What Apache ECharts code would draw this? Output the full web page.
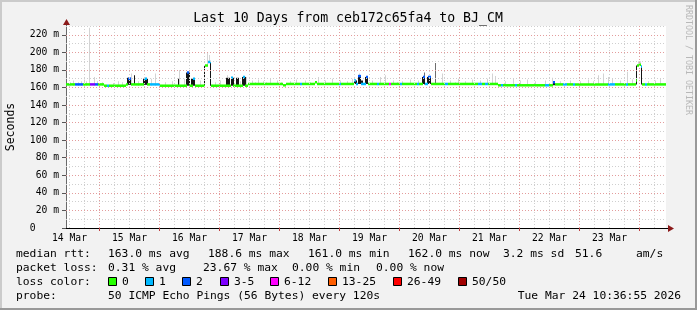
<!DOCTYPE html>
<html><head><meta charset="utf-8">
<script src="https://cdn.jsdelivr.net/npm/echarts@6/dist/echarts.min.js"></script>
<style>html,body{margin:0;padding:0;background:#f2f2f2}#c{width:697px;height:310px}</style>
</head><body><div id="c"></div>
<script>
// ---------- data (hours since 14 Mar 00:00, values in ms) ----------
const titleText = 'Last 10 Days from ceb172c65fa4 to BJ_CM';
const timeRange = [10.615, 250.615];
const xLabels = ['14 Mar','15 Mar','16 Mar','17 Mar','18 Mar','19 Mar','20 Mar','21 Mar','22 Mar','23 Mar'];
const xLabelHours = [12, 36, 60, 84, 108, 132, 156, 180, 204, 228];
const dayHours = [24, 48, 72, 96, 120, 144, 168, 192, 216, 240];
const yLabelValues = [0, 20, 40, 60, 80, 100, 120, 140, 160, 180, 200, 220];
const yMax = 230;
const lossColors = ['#26ff00','#00b8ff','#0059ff','#7e00ff','#ff00ff','#ff5e00','#ff0000','#a10000'];
const lossLabels = ['0','1','2','3-5','6-12','13-25','26-49','50/50'];

// median rtt runs: [startHour, endHour, ms, lossClass]
const median = [
 [10.6,14.2,163.5,0],[14.2,17.4,163.5,2],[17.4,20.2,163.5,0],[20.2,22.2,163.5,3],[22.2,23.4,163.5,2],
 [23.4,25.8,163.5,0],[25.8,27.0,162,0],[27.0,27.8,162,1],[27.8,34.6,162,0],[34.6,35.4,163.5,0],
 [35.4,36.6,170,2],[36.6,41.8,163.5,0],[41.8,43.0,170,1],[43.0,44.2,163.5,0],[44.2,48.2,163.5,1],
 [48.2,59.0,162,0],[59.0,59.8,177,2],[59.8,61.4,162,0],[61.4,62.2,170,1],[62.2,66.2,162,0],
 [66.2,67.4,185,0],[67.4,68.6,189,1],[68.6,76.6,162,0],[76.6,77.4,171,1],[77.4,81.4,162,0],
 [81.4,82.2,172,1],[82.2,83.4,162,0],[83.4,97.4,164,0],[97.4,98.6,162.5,0],[98.6,104.2,164,0],
 [104.2,105.0,164,1],[105.0,110.2,164,0],[110.2,111.0,166,0],[111.0,119.8,164,0],[119.8,120.6,164,1],
 [120.6,125.8,164,0],[125.8,126.6,168,1],[126.6,127.4,164,1],[127.4,128.6,173,2],[128.6,130.6,164,1],
 [130.6,131.4,172,2],[131.4,135.0,164,0],[135.0,135.8,164,1],[135.8,139.8,164,0],[139.8,140.6,164,4],
 [140.6,144.2,164,0],[144.2,145.0,164,1],[145.0,151.0,164,0],[151.0,151.8,164,1],[151.8,153.4,164,0],
 [153.4,154.2,172,2],[154.2,155.4,164,1],[155.4,156.6,172,2],[156.6,162.2,164,0],[162.2,163.4,164,1],
 [163.4,175.4,164,0],[175.4,177.0,164,1],[177.0,178.2,164,0],[178.2,179.4,164,1],[179.4,183.4,164,0],
 [183.4,184.6,162.5,0],[184.6,185.4,162.5,1],[185.4,190.2,162.5,0],[190.2,191.0,162.5,1],[191.0,202.2,162.5,0],
 [202.2,203.8,162.5,1],[203.8,205.4,162.5,0],[205.4,206.2,166,2],[206.2,209.4,163.5,0],[209.4,211.0,163.5,1],
 [211.0,213.4,163.5,0],[213.4,214.2,163.5,1],[214.2,227.4,163.5,0],[227.4,230.2,163.5,1],[230.2,234.6,163.5,0],
 [234.6,235.4,163.5,1],[235.4,238.6,163.5,0],[238.6,239.0,168,0],[239.0,239.8,185,0],[239.8,240.6,186,0],
 [240.6,241.0,184,1],[241.0,242.2,163.5,0],[242.2,243.0,163.5,1],[243.0,250.6,163.5,0]
];

// dense (dark) smoke blocks: [startHour, endHour, lowMs, highMs]
const denseSmoke = [
 [35.0,36.6,163,171],[37.8,38.2,163,174],[41.4,43.4,163,170],[55.4,55.8,162,170],[58.6,60.2,162,177],
 [60.6,62.2,162,170],[66.0,66.4,162,185],[68.4,68.8,162,189],[74.6,76.2,162,171],[76.6,77.8,162,171],
 [78.6,79.8,162,171],[81.0,82.6,162,172],[125.8,127.0,164,168],[127.4,128.6,164,173],[128.6,129.4,164,168],
 [130.2,131.4,164,172],[153.0,154.2,164,172],[155.0,156.6,164,172],[205.4,206.2,162.5,166],
 [238.6,239.0,163.5,168],[238.8,239.2,168,185],[240.8,241.2,163.5,183]
];

// smoke spikes: [hour, lowMs, highMs, shade(0 light,1 dark)]
const smoke = [
 [11.4,162,165,0],[12.2,162,166,0],[13.4,162,168,0],[15.4,162,166,0],[16.6,162,167,0],[17.8,162,169,0],[18.6,162,167,0],[19.8,162,228,0],
 [21.8,162,172,0],[23.0,162,167,0],[25.0,162,166,0],[29.4,161,165,0],[31.4,161,167,0],[33.0,161,166,0],
 [36.6,162,176,0],[39.4,162,167,0],[44.6,162,170,0],[46.2,162,176,0],[50.2,161,166,0],[53.0,161,167,0],
 [55.8,161,180,0],[57.8,161,170,0],[64.2,161,168,0],[67.0,186,200,0],[67.8,190,197,0],[70.2,161,166,0],
 [72.2,161,168,0],[75.0,171,174,0],[80.2,161,167,0],[82.6,161,172,0],[85.0,163,168,0],[86.2,163,166,0],[87.4,163,169,0],
 [89.4,163,167,0],[90.6,163,166,0],[92.2,163,170,0],[95.0,163,168,0],[96.6,163,166,0],[100.2,163,167,0],[102.6,163,169,0],[106.2,163,168,0],
 [108.2,163,166,0],[111.4,163,172,0],[114.2,163,168,0],[117.0,163,170,0],[120.2,163,168,0],[123.0,163,167,0],[125.0,163,170,0],
 [127.8,173,176,0],[133.0,163,168,0],[136.2,163,172,0],[138.2,163,174,0],[141.4,163,168,0],[143.0,163,166,0],[145.0,163,167,0],
 [148.2,163,169,0],[151.4,163,168,0],[153.8,163,177,1],[158.2,163,188,1],[161.0,163,176,0],[164.2,163,168,0],[166.2,163,166,0],
 [167.4,163,170,0],[170.2,163,167,0],[173.0,163,169,0],[176.2,163,168,0],[179.0,163,170,0],[181.0,163,176,0],
 [182.2,163,173,0],[186.2,162,167,0],[189.4,162,170,0],[192.2,162,168,0],[195.0,162,169,0],[198.2,162,167,0],
 [202.2,162,168,0],[205.0,162,171,0],[208.2,163,167,0],[212.2,163,168,0],[216.2,163,167,0],[219.4,163,169,0],
 [221.4,163,167,0],[223.4,163,174,0],[225.4,163,176,0],[227.4,163,172,0],[229.0,163,170,0],[232.2,163,168,0],[235.0,163,178,0],
 [237.0,163,169,0],[239.4,186,190,0],[240.2,186,190,0],[243.4,163,167,0],[246.2,163,168,0],[248.2,163,170,0]
];

const rttLabel = 'median rtt:';
const rttStats = ['163.0 ms avg','188.6 ms max','161.0 ms min','162.0 ms now','3.2 ms sd','51.6','am/s'];
const lossLabel = 'packet loss:';
const lossStats = ['0.31 % avg','23.67 % max','0.00 % min','0.00 % now'];
const colorLabel = 'loss color:';
const probeLabel = 'probe:';
const probeText = '50 ICMP Echo Pings (56 Bytes) every 120s';
const stampText = 'Tue Mar 24 10:36:55 2026';
const yName = 'Seconds';
const watermark = 'RRDTOOL / TOBI OETIKER';

// ---------- chart ----------
const FONT = 'DejaVu Sans Mono';
const chart = echarts.init(document.getElementById('c'), null, {renderer: 'canvas'});

const minorStyle = {color: '#cfcfcf', type: [1, 2], width: 1};
const majorStyle = {color: '#e39c9c', type: [1, 2], width: 1};
const gridLines = [];
for (let v = 10; v <= yMax; v += 20) gridLines.push({yAxis: v, lineStyle: minorStyle});
for (let h = 12; h < timeRange[1]; h += 6) if (h % 24 !== 0) gridLines.push({xAxis: h, lineStyle: minorStyle});
for (let v = 20; v <= 220; v += 20) gridLines.push({yAxis: v, lineStyle: majorStyle});
dayHours.forEach(h => gridLines.push({xAxis: h, lineStyle: majorStyle}));

function crispX(x) { return Math.round(x); }

const option = {
  animation: false,
  backgroundColor: '#f2f2f2',
  grid: {left: 66, right: 31, top: 26, bottom: 82, show: true, backgroundColor: '#ffffff', borderWidth: 0},
  xAxis: {
    type: 'value', min: timeRange[0], max: timeRange[1],
    axisLine: {show: true, lineStyle: {color: '#000', width: 1}},
    axisTick: {show: true, customValues: dayHours, length: 3, inside: false, lineStyle: {color: '#c04040'}},
    axisLabel: {show: true, customValues: xLabelHours, margin: 5, fontFamily: FONT, fontSize: 9.7, color: '#000',
      formatter: v => xLabels[xLabelHours.indexOf(Math.round(v))] || ''},
    splitLine: {show: false}
  },
  yAxis: {
    type: 'value', min: 0, max: yMax, interval: 10,
    axisLine: {show: true, lineStyle: {color: '#6a6a6a', width: 1}},
    axisTick: {show: true, customValues: yLabelValues, length: 4, lineStyle: {color: '#555'}},
    axisLabel: {show: true, customValues: yLabelValues, margin: 7, fontFamily: FONT, fontSize: 9.7, color: '#000',
      formatter: v => v === 0 ? '0    ' : (v + ' m')},
    splitLine: {show: false}
  },
  series: [
    {type: 'line', data: [], z: 1, silent: true,
     markLine: {silent: true, symbol: ['none', 'none'], label: {show: false}, animation: false, data: gridLines}},
    {type: 'custom', z: 2, silent: true, data: smoke, encode: {x: 0, y: [1, 2]},
     renderItem: (p, api) => {
       const a = api.coord([api.value(0), api.value(1)]);
       const b = api.coord([api.value(0), api.value(2)]);
       return {type: 'rect', shape: {x: crispX(a[0]), y: b[1], width: 1, height: a[1] - b[1]},
               style: {fill: api.value(3) ? '#6e6e6e' : '#d3d3d3'}};
     }},
    {type: 'custom', z: 3, silent: true, data: denseSmoke, encode: {x: [0, 1], y: [2, 3]},
     renderItem: (p, api) => {
       const a = api.coord([api.value(0), api.value(2)]);
       const b = api.coord([api.value(1), api.value(3)]);
       return {type: 'rect', shape: {x: crispX(a[0]), y: b[1], width: Math.max(1, crispX(b[0]) - crispX(a[0])), height: a[1] - b[1]},
               style: {fill: '#141414'}};
     }},
    {type: 'custom', z: 4, silent: true, data: median, encode: {x: [0, 1], y: 2},
     renderItem: (p, api) => {
       const a = api.coord([api.value(0), api.value(2)]);
       const b = api.coord([api.value(1), api.value(2)]);
       return {type: 'rect', shape: {x: crispX(a[0]), y: a[1] - 1.25, width: Math.max(1, crispX(b[0]) - crispX(a[0])), height: 2.5},
               style: {fill: lossColors[api.value(3)]}};
     }}
  ]
};
chart.setOption(option);

// ---------- decorations and legend text ----------
const g = [];
const LF = 11.3;
const txt = (x, y, s, extra) => Object.assign({type: 'text', x: x, y: y, silent: true,
  style: Object.assign({text: s, fontFamily: FONT, fontSize: LF, fill: '#000', align: 'left', verticalAlign: 'middle'}, (extra || {}))});

// frame
g.push({type: 'rect', shape: {x: 0, y: 0, width: 697, height: 2}, style: {fill: '#cbcbcb'}, silent: true});
g.push({type: 'rect', shape: {x: 0, y: 0, width: 2, height: 310}, style: {fill: '#cbcbcb'}, silent: true});
g.push({type: 'rect', shape: {x: 0, y: 308, width: 697, height: 2}, style: {fill: '#999999'}, silent: true});
g.push({type: 'rect', shape: {x: 695, y: 0, width: 2, height: 310}, style: {fill: '#999999'}, silent: true});

// title
g.push(txt(348, 19, titleText, {fontSize: 13.2, align: 'center'}));
// watermark
g.push(Object.assign(txt(688, 60, watermark, {fontSize: 8.3, align: 'center', fill: '#b8b8b8'}), {rotation: -Math.PI / 2}));
// y name
g.push(Object.assign(txt(11, 127, yName, {fontSize: 11.5, align: 'center'}), {rotation: Math.PI / 2}));

// axis arrows
const o = chart.convertToPixel({gridIndex: 0}, [timeRange[0], 0]);
const e = chart.convertToPixel({gridIndex: 0}, [timeRange[1], yMax]);
g.push({type: 'line', shape: {x1: o[0] - 4, y1: o[1] + 0.5, x2: e[0] + 3, y2: o[1] + 0.5}, style: {stroke: '#000', lineWidth: 1}, silent: true});
g.push({type: 'line', shape: {x1: o[0] + 0.5, y1: e[1] - 1, x2: o[0] + 0.5, y2: e[1]}, style: {stroke: '#6a6a6a', lineWidth: 1}, silent: true});
g.push({type: 'polygon', shape: {points: [[e[0] + 2, o[1] - 3], [e[0] + 8, o[1] + 0.5], [e[0] + 2, o[1] + 4]]}, style: {fill: '#8b1a1a'}, silent: true});
g.push({type: 'polygon', shape: {points: [[o[0] - 3, e[1] - 1], [o[0] + 0.5, e[1] - 7], [o[0] + 4, e[1] - 1]]}, style: {fill: '#8b1a1a'}, silent: true});

// legend rows
const rowY = [254, 268, 282, 296];
const valX = 108;
g.push(txt(16, rowY[0], rttLabel));
const rttX = [108, 208, 308, 408, 503, 575, 636];
rttStats.forEach((s, i) => g.push(txt(rttX[i], rowY[0], s)));
g.push(txt(16, rowY[1], lossLabel));
const lossX = [108, 203, 292, 376];
lossStats.forEach((s, i) => g.push(txt(lossX[i], rowY[1], s)));
g.push(txt(16, rowY[2], colorLabel));
const boxX = [108, 145, 182, 220, 270, 328, 393, 458];
lossLabels.forEach((s, i) => {
  g.push({type: 'rect', shape: {x: boxX[i] + 0.5, y: rowY[2] - 4.5, width: 8, height: 8},
          style: {fill: lossColors[i], stroke: '#000', lineWidth: 1}, silent: true});
  g.push(txt(boxX[i] + 14, rowY[2], s));
});
g.push(txt(16, rowY[3], probeLabel));
g.push(txt(valX, rowY[3], probeText));
g.push(txt(681, rowY[3], stampText, {align: 'right'}));

chart.setOption({graphic: {elements: g}});
</script>
</body></html>
